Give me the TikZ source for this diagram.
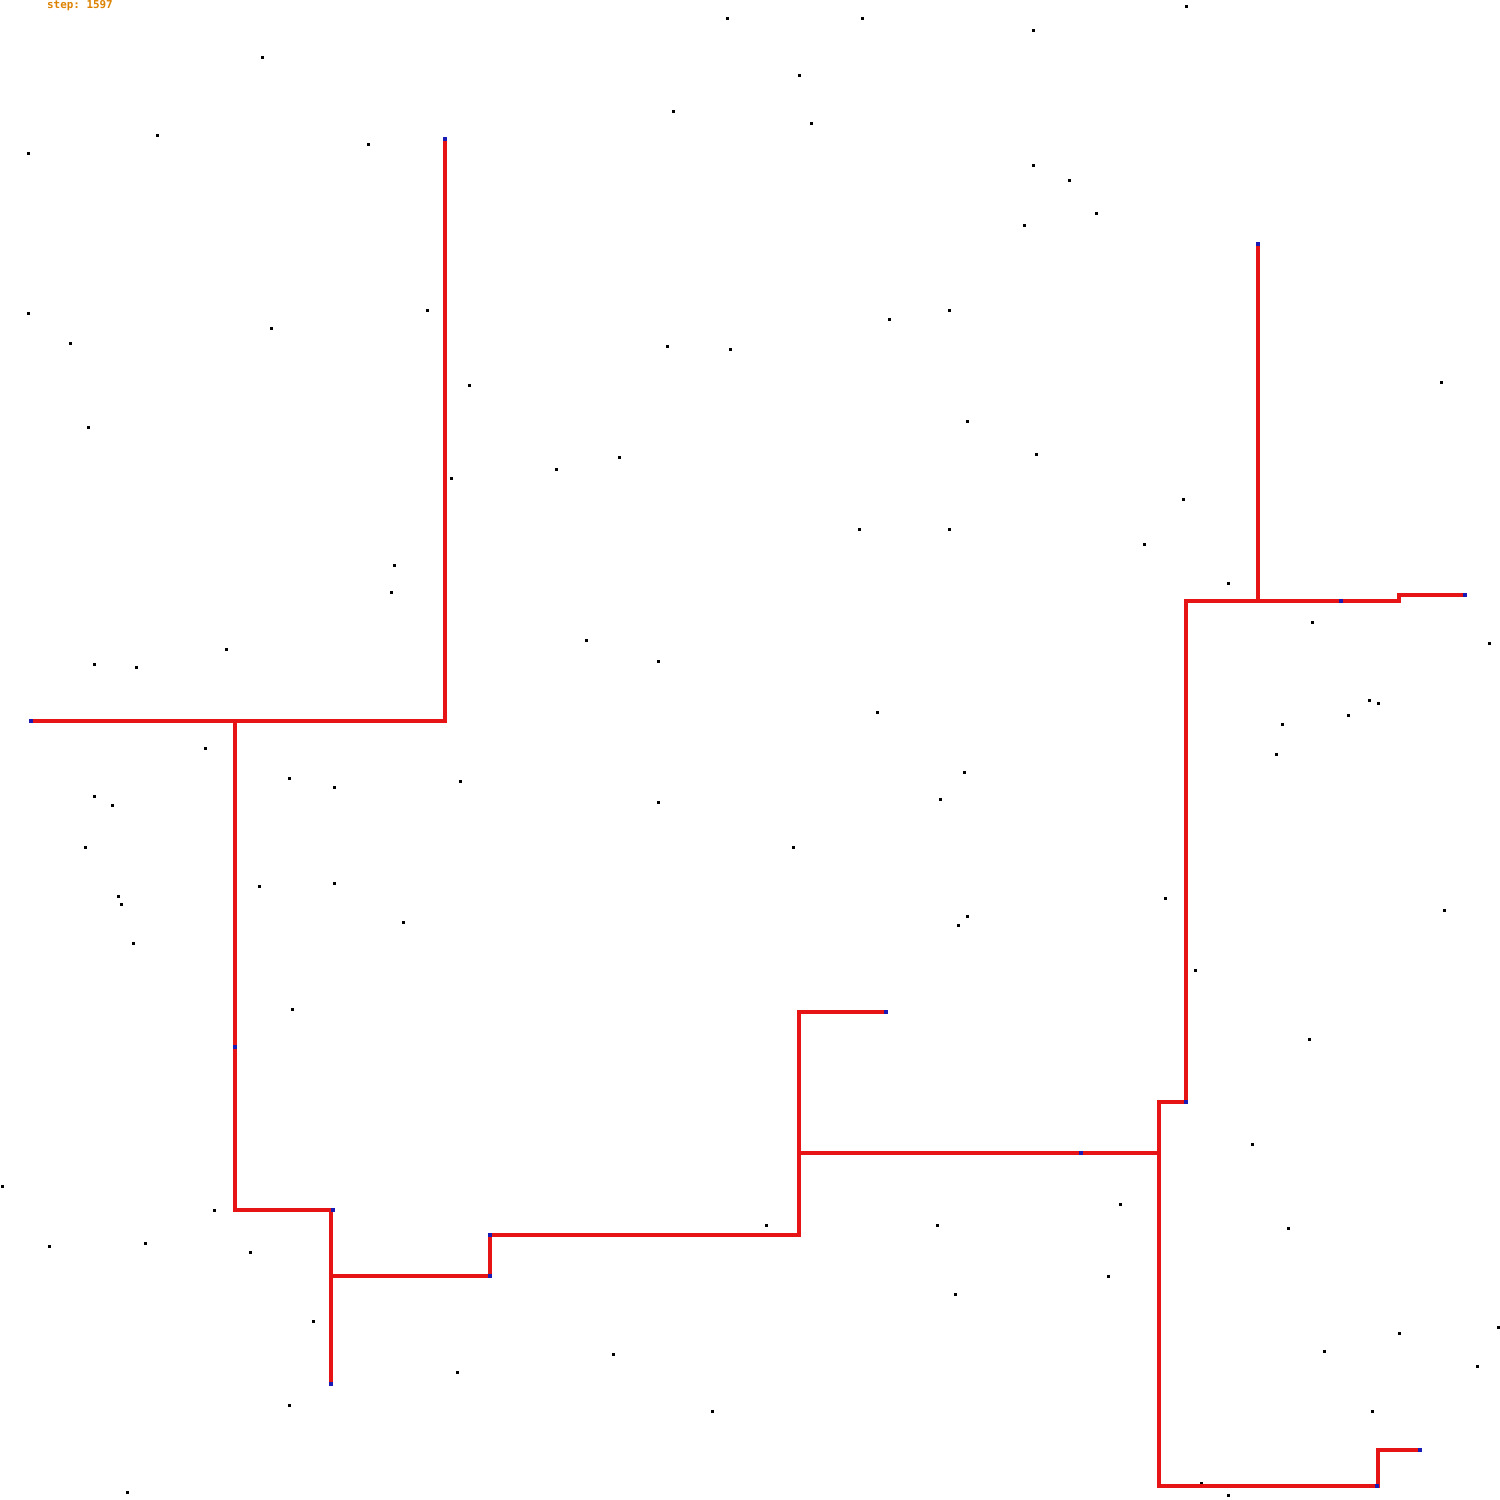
\documentclass[tikz,border=0pt]{standalone}
\usepackage{fontspec}
\setmonofont{DejaVu Sans Mono}
\definecolor{PathRed}{HTML}{E61414}
\definecolor{TipBlue}{HTML}{1A1AB4}
\definecolor{StepOrange}{HTML}{DC8200}
\tikzset{
  branch/.style={draw=PathRed, line width=0.95pt, line join=miter},
  dot/.style={fill=black},
  tip/.style={fill=TipBlue},
  counter/.style={text=StepOrange, font=\ttfamily\bfseries\fontsize{3.1pt}{3.2pt}\selectfont, inner sep=0pt},
}

\begin{document}
\begin{tikzpicture}[x=0.01cm, y=-0.01cm]
    \useasboundingbox (0,0) rectangle (1500,1500);
    \node[counter] (step) at (80,6) {step: 1597};
    % scattered points
    \foreach \px/\py in {727/19, 862/19, 1033/31, 1186/7, 262/58, 799/76, 673/112, 811/124, 157/136, 28/154,
        368/145, 1033/166, 1069/181, 1096/214, 1024/226, 28/313, 427/310, 271/328, 70/343, 889/319,
        949/310, 667/346, 730/349, 469/385, 1441/382, 88/427, 967/421, 1036/454, 451/478, 556/469,
        619/457, 1183/499, 859/529, 949/529, 1144/544, 394/565, 391/592, 1228/583, 586/640, 658/661,
        226/649, 94/664, 136/667, 1489/643, 1312/622, 1369/700, 1378/703, 1348/715, 1282/724, 877/712,
        1276/754, 205/748, 289/778, 334/787, 460/781, 94/796, 112/805, 658/802, 964/772, 940/799,
        85/847, 793/847, 118/896, 121/904, 259/886, 334/883, 133/943, 403/922, 967/916, 958/925,
        1165/898, 1444/910, 1195/970, 292/1009, 1309/1039, 1252/1144, 2/1186, 1120/1204, 214/1210, 766/1225,
        937/1225, 1288/1228, 49/1246, 145/1243, 250/1252, 1108/1276, 955/1294, 313/1321, 1498/1327, 1399/1333,
        1324/1351, 613/1354, 1477/1366, 457/1372, 289/1405, 712/1411, 1372/1411, 1201/1483, 1228/1495, 127/1492}
        \fill[dot] (\px,\py) +(-1.5,-1.5) rectangle +(1.5,1.5);
    % left tree
    \draw[branch] (445,139) -- (445,721) -- (31,721);
    \draw[branch] (235,721) -- (235,1210) -- (333,1210);
    \draw[branch] (331,1210) -- (331,1384);
    \draw[branch] (331,1276) -- (490,1276) -- (490,1235) -- (799,1235) -- (799,1012) -- (886,1012);
    \draw[branch] (799,1153) -- (1159,1153);
    % right tree
    \draw[branch] (1420,1450) -- (1378,1450) -- (1378,1486) -- (1159,1486) -- (1159,1102) -- (1186,1102)
        -- (1186,601) -- (1399,601) -- (1399,595) -- (1465,595);
    \draw[branch] (1258,244) -- (1258,601);
    % end points
    \foreach \px/\py in {445/139, 31/721, 235/1047, 333/1210, 490/1235, 490/1276, 331/1384, 886/1012,
        1081/1153, 1186/1102, 1258/244, 1341/601, 1465/595, 1377/1486, 1420/1450}
        \fill[tip] (\px,\py) +(-2,-2) rectangle +(2,2);
\end{tikzpicture}
\end{document}
